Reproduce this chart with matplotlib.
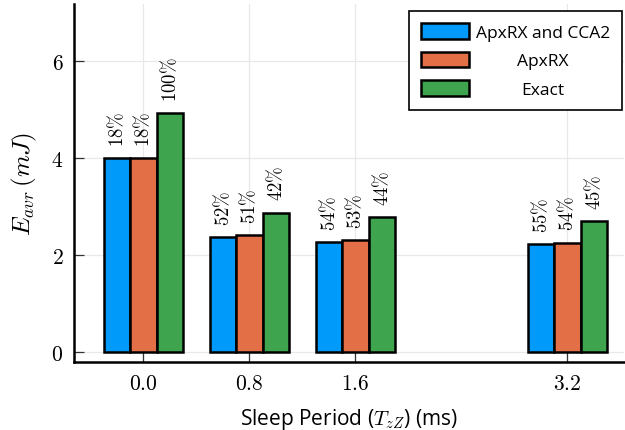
import numpy as np
import matplotlib
matplotlib.use("Agg")
import matplotlib.pyplot as plt

plt.rcParams["mathtext.fontset"] = "cm"
plt.rcParams["font.family"] = ["Open Sans", "DejaVu Sans"]

# Datos
sleep_periods = [0.0, 0.8, 1.6, 3.2]
tick_labels = ["$0.0$", "$0.8$", "$1.6$", "$3.2$"]
series_names = ["ApxRX and CCA2", "ApxRX", "Exact"]
energy_cca2 = [4.00, 2.36, 2.26, 2.22]
energy_apxrx = [4.00, 2.41, 2.30, 2.25]
energy_exact = [4.92, 2.87, 2.78, 2.70]
pct_cca2 = ["18%", "52%", "54%", "55%"]
pct_apxrx = ["18%", "51%", "53%", "54%"]
pct_exact = ["100%", "42%", "44%", "45%"]

COLORS = ["#009afa", "#e36f47", "#3ea44e"]
COLOR_GRID = "#e8e8e8"

fig = plt.figure(figsize=(6.25, 4.31), dpi=100)
ax = fig.add_axes([0.119, 0.1585, 0.8795, 0.83])

bar_w = 0.2
offsets = [-bar_w, 0.0, bar_w]
values = [energy_cca2, energy_apxrx, energy_exact]
pcts = [pct_cca2, pct_apxrx, pct_exact]
x = np.array(sleep_periods)

for vals, labels, off, color, name in zip(values, pcts, offsets, COLORS, series_names):
    ax.bar(x + off, vals, width=bar_w, color=color, edgecolor="black",
           linewidth=1.8, label=name, zorder=2)
    for xi, v, lab in zip(x + off, vals, labels):
        ax.text(xi, v + 0.25, "$" + lab.replace("%", r"\%") + "$",
                rotation=90, ha="center", va="bottom", fontsize=13.5, zorder=3)

ax.set_xlim(-0.52, 3.628)
ax.set_ylim(-0.206, 7.17)
ax.set_xticks(sleep_periods)
ax.set_xticklabels(tick_labels)
ax.set_yticks([0, 2, 4, 6])
ax.set_yticklabels(["$0$", "$2$", "$4$", "$6$"])
ax.tick_params(direction="in", length=7, width=0.9, color="#333333",
               labelsize=15.5, pad=8)

ax.grid(True, color=COLOR_GRID, linewidth=0.9)
ax.set_axisbelow(True)
for side in ["top", "right"]:
    ax.spines[side].set_visible(False)
for side in ["left", "bottom"]:
    ax.spines[side].set_linewidth(1.8)

ax.set_xlabel(r"Sleep Period ($T_{zZ}$) (ms)", fontsize=15)
ax.xaxis.set_label_coords(0.5, -0.125)
ax.set_ylabel(r"$E_{avr}\,(mJ)$", fontsize=18)
ax.yaxis.set_label_coords(-0.064, 0.5)

leg = ax.legend(loc="upper right", bbox_to_anchor=(0.9955, 0.972),
                bbox_transform=fig.transFigure, fontsize=12.5, frameon=True,
                fancybox=False, edgecolor="black", framealpha=1,
                handlelength=2.75, handleheight=1.0, handletextpad=0.4,
                borderpad=0.7, labelspacing=0.62, borderaxespad=0)
leg.get_frame().set_linewidth(1.2)

# centrar los textos de la leyenda
fig.canvas.draw()
renderer = fig.canvas.get_renderer()
texts = leg.get_texts()
widths = [t.get_window_extent(renderer).width for t in texts]
wmax = max(widths)
for t, w in zip(texts, widths):
    t.set_x((wmax - w) / 2)

fig.savefig("out.png", dpi=100)
